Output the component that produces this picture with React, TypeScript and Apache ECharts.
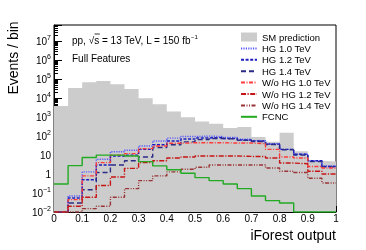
import React, { useEffect, useRef } from 'react';
import * as echarts from 'echarts';

// Bin low edges of the iForest output histogram (20 bins of width 0.05)
const binLowEdges = [0, 0.05, 0.1, 0.15, 0.2, 0.25, 0.3, 0.35, 0.4, 0.45, 0.5, 0.55, 0.6, 0.65, 0.7, 0.75, 0.8, 0.85, 0.9, 0.95];
const binHighEdge = 1;

// Events per bin (values at 0.01 lie at / below the axis minimum)
const smPrediction = [3900, 34000, 69000, 80000, 55000, 30000, 10000, 4800, 2000, 1000, 590, 450, 270, 300, 90, 50, 150, 16, 5, 4.6];
const hg10 = [0.01, 0.07, 1.3, 6, 15, 18, 30, 55, 78, 95, 100, 95, 85, 68, 58, 40, 20, 11, 5, 2.7];
const hg12 = [0.01, 0.055, 0.5, 3, 9, 10, 20, 35, 55, 70, 80, 85, 75, 62, 55, 38, 20, 11, 5, 2.5];
const hg14 = [0.01, 0.03, 0.15, 1.2, 3, 5, 8, 25, 35, 50, 65, 75, 70, 60, 52, 36, 19, 10, 4.5, 2.4];
const woHg10 = [0.01, 0.045, 0.8, 4, 10, 12, 22, 30, 42, 45, 45, 45, 43, 43, 40, 20, 8, 7, 2.5, 2.1];
const woHg12 = [0.01, 0.02, 0.06, 0.25, 0.7, 2, 4, 5, 7, 8, 9, 9, 9, 8.5, 8.5, 7, 3.8, 3.5, 1.4, 1];
const woHg14 = [0.01, 0.01, 0.015, 0.02, 0.06, 0.17, 0.45, 0.8, 1.3, 1.8, 2.3, 3, 3, 3, 3, 2.1, 1.4, 1.2, 0.6, 0.34];
const fcnc = [0.3, 2.8, 7.5, 10, 10, 9, 4.5, 2.7, 1.7, 1.1, 0.65, 0.45, 0.3, 0.17, 0.07, 0.04, 0.03, 0.01, 0.01, 0.01];

const lineSeries = [
  { name: 'HG 1.0 TeV', values: hg10, color: '#5a5aff', dash: [1.2, 1.2] },
  { name: 'HG 1.2 TeV', values: hg12, color: '#1c1cc0', dash: [3, 1.6] },
  { name: 'HG 1.4 TeV', values: hg14, color: '#2b2b86', dash: [5, 3] },
  { name: 'W/o HG 1.0 TeV', values: woHg10, color: '#ff3a3a', dash: [4, 1.5, 1, 1.5] },
  { name: 'W/o HG 1.2 TeV', values: woHg12, color: '#c81414', dash: [5, 1.5, 1.2, 1.5] },
  { name: 'W/o HG 1.4 TeV', values: woHg14, color: '#9a3434', dash: [4, 1.5, 1, 1.5, 1, 1.5] },
  { name: 'FCNC', values: fcnc, color: '#22aa22', dash: 'solid' as any },
];

const FONT = '"Liberation Sans", Arial, Helvetica, sans-serif';

function toSteps(values: number[]) {
  const pts = values.map((v, i) => [binLowEdges[i], v]);
  pts.push([binHighEdge, values[values.length - 1]]);
  return pts;
}

function yLabel(v: number) {
  const l = Math.log10(v);
  const e = Math.round(l);
  if (Math.abs(l - e) > 1e-6) return '';
  if (e === 0) return '1';
  if (e === 1) return '10';
  return '10{sup|' + (e < 0 ? '\u2212' + -e : String(e)) + '}';
}

export default function App() {
  const ref = useRef<HTMLDivElement>(null);
  useEffect(() => {
    if (!ref.current) return;
    const chart = echarts.init(ref.current, undefined, { renderer: 'svg' });
    const option: any = {
      animation: false,
      grid: { left: 54, top: 25, width: 282, height: 187, show: true, borderColor: '#000', borderWidth: 1, backgroundColor: 'transparent' },
      xAxis: {
        type: 'value', min: 0, max: 1, interval: 0.1,
        axisLine: { show: true, lineStyle: { color: '#000', width: 1 } },
        axisTick: { show: true, inside: true, length: 6, lineStyle: { color: '#000' } },
        minorTick: { show: true, splitNumber: 5, length: 3, lineStyle: { color: '#000' } },
        axisLabel: { color: '#000', fontSize: 10, fontFamily: FONT, margin: 1 },
        splitLine: { show: false },
      },
      yAxis: {
        type: 'log', logBase: 10, min: 0.01, max: 7.2e7, splitNumber: 10,
        axisLine: { show: true, lineStyle: { color: '#000', width: 1 } },
        axisTick: { show: true, inside: true, length: 8, lineStyle: { color: '#000' } },
        minorTick: { show: true, splitNumber: 9, length: 4, lineStyle: { color: '#000' } },
        axisLabel: {
          color: '#000', fontSize: 10, fontFamily: FONT, margin: 3, formatter: yLabel,
          rich: { sup: { fontSize: 7, fontFamily: FONT, color: '#000', verticalAlign: 'top', padding: [0, 0, 7, 0] } },
        },
        splitLine: { show: false },
        minorSplitLine: { show: false },
      },
      legend: {
        orient: 'vertical', left: 240, top: 32, padding: 0,
        itemWidth: 16, itemHeight: 9, itemGap: 1.4, selectedMode: false,
        itemStyle: { opacity: 0 },
        textStyle: { fontSize: 9.5, fontFamily: FONT, color: '#000', lineHeight: 10 },
        data: [
          { name: 'SM prediction', icon: 'rect', itemStyle: { color: '#cccccc', opacity: 1 } },
          ...lineSeries.map((s) => ({ name: s.name })),
        ],
      },
      graphic: [
        { type: 'text', x: 13, y: 58, rotation: Math.PI / 2, style: { text: 'Events / bin', fontSize: 14, fontFamily: FONT, fill: '#000', align: 'center', verticalAlign: 'middle' } },
        { type: 'text', x: 336, y: 235, style: { text: 'iForest output', fontSize: 14, fontFamily: FONT, fill: '#000', align: 'right', verticalAlign: 'middle' } },
        { type: 'text', x: 72, y: 40, style: { text: 'pp, \u221As = 13 TeV, L = 150 fb{sup|\u22121}', fontSize: 10, fontFamily: FONT, fill: '#000', align: 'left', verticalAlign: 'middle', rich: { sup: { fontSize: 6, fontFamily: FONT, fill: '#000', verticalAlign: 'top', padding: [0, 0, 6, 0] } } } },
        { type: 'line', shape: { x1: 94.5, y1: 34, x2: 99.8, y2: 34 }, style: { stroke: '#000', lineWidth: 0.8 } },
        { type: 'text', x: 72, y: 58, style: { text: 'Full Features', fontSize: 10, fontFamily: FONT, fill: '#000', align: 'left', verticalAlign: 'middle' } },
      ],
      series: [
        {
          name: 'SM prediction', type: 'line', step: 'end', symbol: 'none', data: toSteps(smPrediction),
          lineStyle: { width: 0, opacity: 0 }, itemStyle: { color: '#cccccc' },
          areaStyle: { color: '#cccccc', opacity: 1, origin: 'start' }, z: 1,
        },
        ...lineSeries.map((s, i) => ({
          name: s.name, type: 'line', step: 'end', symbol: 'none', data: toSteps(s.values),
          itemStyle: { color: s.color },
          lineStyle: { color: s.color, width: 1.4, type: s.dash },
          z: 3 + i,
        })),
      ],
    };
    chart.setOption(option);
    return () => chart.dispose();
  }, []);
  return <div ref={ref} style={{ position: 'fixed', left: 0, top: 0, width: 366, height: 250 }} />;
}
